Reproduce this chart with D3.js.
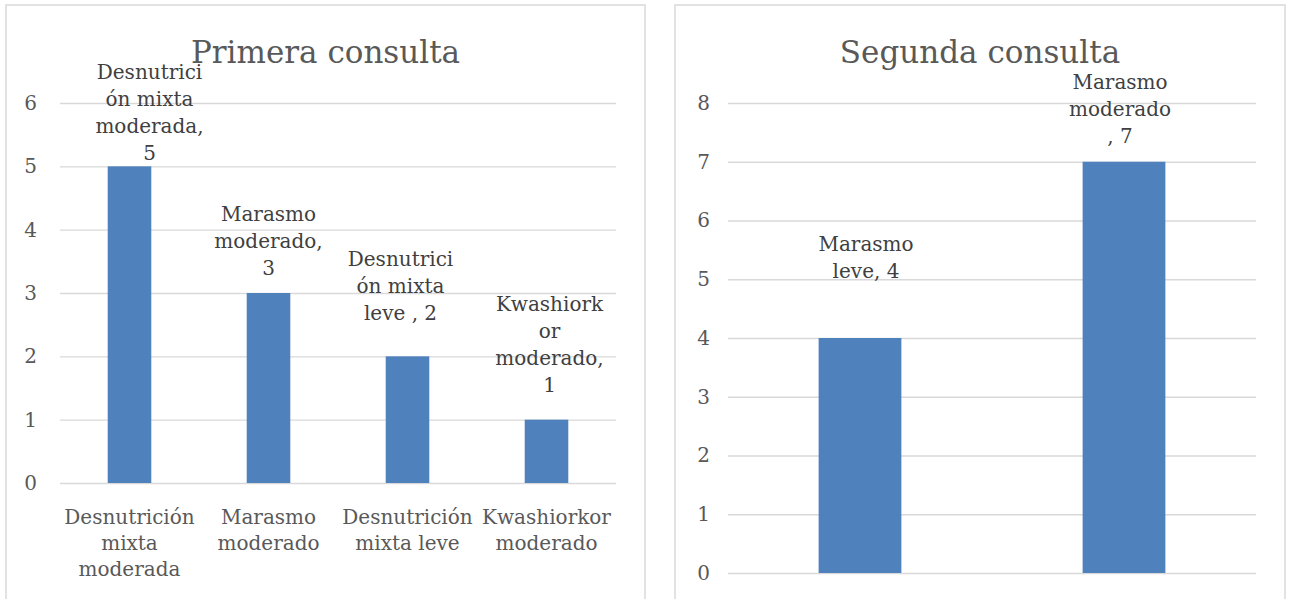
<!DOCTYPE html>
<html lang="es">
<head>
    <meta charset="UTF-8">
    <title>Consultas</title>
    <script src="https://d3js.org/d3.v7.min.js"></script>
    <style>
        body { margin: 0; background: #fff; }
        text { font-family: "DejaVu Serif", serif; }
    </style>
</head>
<body>

    <script>

        // Primera consulta
        var categories1 = ["Desnutrición mixta moderada", "Marasmo moderado", "Desnutrición mixta leve", "Kwashiorkor moderado"];
        var values1 = [5, 3, 2, 1];
        var catLines1 = [["Desnutrición", "mixta", "moderada"], ["Marasmo", "moderado"], ["Desnutrición", "mixta leve"], ["Kwashiorkor", "moderado"]];
        var labelLines1 = [["Desnutrici", "ón mixta", "moderada,", "5"], ["Marasmo", "moderado,", "3"], ["Desnutrici", "ón mixta", "leve , 2"], ["Kwashiork", "or", "moderado,", "1"]];
        var ticks1 = [0, 1, 2, 3, 4, 5, 6];

        // Segunda consulta
        var categories2 = ["Marasmo leve", "Marasmo moderado"];
        var values2 = [4, 7];
        var labelLines2 = [["Marasmo", "leve, 4"], ["Marasmo", "moderado", ", 7"]];
        var ticks2 = [0, 1, 2, 3, 4, 5, 6, 7, 8];

        var svg = d3.select("body")
            .append("svg")
            .attr("width", 1294)
            .attr("height", 599);

        function drawChart(opt) {
            var g = svg.append("g");

            g.append("rect")
                .attr("x", opt.box[0])
                .attr("y", opt.box[1])
                .attr("width", opt.box[2])
                .attr("height", opt.box[3])
                .attr("fill", "#fff")
                .attr("stroke", "#d9d9d9")
                .attr("stroke-width", 1.5);

            g.append("text")
                .attr("x", opt.box[0] + opt.box[2] / 2)
                .attr("y", 63)
                .attr("text-anchor", "middle")
                .attr("font-size", 31)
                .attr("fill", "#595959")
                .text(opt.title);

            var x = d3.scaleBand()
                .domain(opt.categories)
                .range([opt.left, opt.right])
                .padding(0);

            var y = d3.scaleLinear()
                .domain([0, d3.max(opt.ticks)])
                .range([opt.bottom, opt.top]);

            var yAxis = d3.axisLeft(y)
                .tickValues(opt.ticks)
                .tickSize(-(opt.right - opt.left))
                .tickPadding(opt.tickPad)
                .tickFormat(d3.format("d"));

            var ax = g.append("g")
                .attr("transform", "translate(" + opt.left + ",0)")
                .call(yAxis);
            ax.select(".domain").remove();
            ax.selectAll(".tick line").attr("stroke", "#d9d9d9").attr("stroke-width", 1.3);
            ax.selectAll(".tick text")
                .attr("font-size", 20)
                .attr("fill", "#595959")
                .attr("font-family", "DejaVu Serif");

            var barW = x.bandwidth() / 3.19;

            g.selectAll(".bar")
                .data(opt.values)
                .enter()
                .append("rect")
                .attr("x", function (d, i) { return x(opt.categories[i]) + x.bandwidth() / 2 - barW / 2; })
                .attr("y", function (d) { return y(d); })
                .attr("width", barW)
                .attr("height", function (d) { return y(0) - y(d); })
                .attr("fill", "#4f81bd");

            // data labels
            g.selectAll(".dlabel")
                .data(opt.values)
                .enter()
                .append("text")
                .attr("text-anchor", "middle")
                .attr("font-size", 20)
                .attr("fill", "#404040")
                .each(function (d, i) {
                    var lines = opt.labelLines[i];
                    var cx = x(opt.categories[i]) + x.bandwidth() / 2 + opt.labelDx[i];
                    var base = y(d) - opt.labelGap[i];
                    d3.select(this).selectAll("tspan")
                        .data(lines)
                        .enter()
                        .append("tspan")
                        .attr("x", cx)
                        .attr("y", function (l, j) { return base - (lines.length - 1 - j) * 27; })
                        .text(function (l) { return l; });
                });

            // category labels
            if (opt.catLines) {
                g.selectAll(".clabel")
                    .data(opt.categories)
                    .enter()
                    .append("text")
                    .attr("text-anchor", "middle")
                    .attr("font-size", 20)
                    .attr("fill", "#595959")
                    .each(function (c, i) {
                        var cx = x(c) + x.bandwidth() / 2;
                        d3.select(this).selectAll("tspan")
                            .data(opt.catLines[i])
                            .enter()
                            .append("tspan")
                            .attr("x", cx)
                            .attr("y", function (l, j) { return opt.bottom + 41 + j * 26; })
                            .text(function (l) { return l; });
                    });
            }
        }

        drawChart({
            box: [6, 5, 639, 620],
            title: "Primera consulta",
            categories: categories1,
            values: values1,
            labelLines: labelLines1,
            catLines: catLines1,
            ticks: ticks1,
            left: 60, right: 616, top: 103, bottom: 483,
            tickPad: 23,
            labelGap: [6, 18, 36, 28],
            labelDx: [20, 0, -7, 3]
        });

        drawChart({
            box: [675, 5, 610, 620],
            title: "Segunda consulta",
            categories: categories2,
            values: values2,
            labelLines: labelLines2,
            catLines: null,
            ticks: ticks2,
            left: 728, right: 1256, top: 103, bottom: 573,
            tickPad: 18,
            labelGap: [60, 19],
            labelDx: [6, -4]
        });

    </script>

</body>
</html>
